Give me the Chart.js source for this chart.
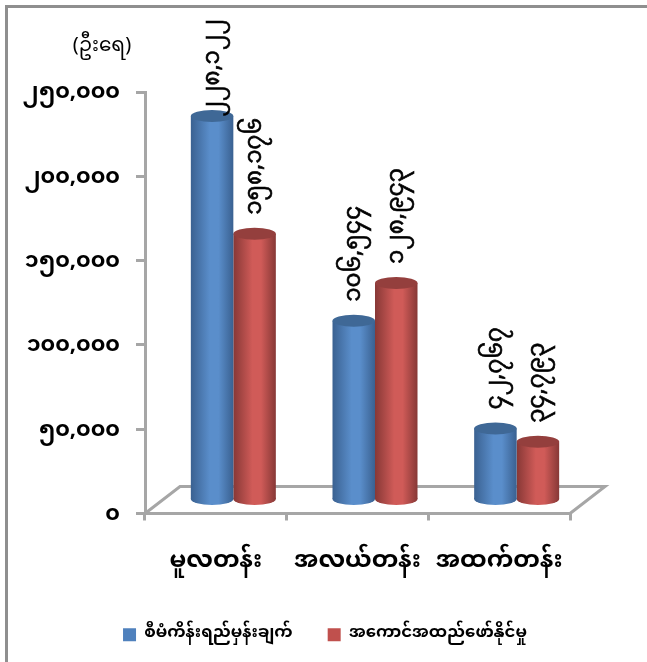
<!DOCTYPE html>
<html>
<head>
<meta charset="utf-8">
<title>chart</title>
<script src="https://cdn.jsdelivr.net/npm/chart.js@4"></script>
<style>
  html, body { margin: 0; padding: 0; background: #fff; }
  #wrap { width: 647px; height: 662px; position: relative; }
</style>
</head>
<body>
<div id="wrap"><canvas id="grafico" width="647" height="662"></canvas></div>
<script>
// dados
const categorias = ['မူလတန်း', 'အလယ်တန်း', 'အထက်တန်း'];
const nomeAzul = 'စီမံကိန်းရည်မှန်းချက်';
const nomeVermelho = 'အကောင်အထည်ဖော်နိုင်မှု';
const valoresAzul = [228122, 106544, 42767];
const valoresVermelho = [158176, 128943, 34793];
const rotulosAzul = ['၂၂၈,၁၂၂', '၁၀၆,၅၄၄', '၄၂,၇၆၇'];
const rotulosVermelho = ['၁၅၈,၁၇၆', '၁၂၈,၉၄၃', '၃၄,၇၉၃'];
const ticksY = [0, 50000, 100000, 150000, 200000, 250000];
const rotulosTicksY = ['၀', '၅၀,၀၀၀', '၁၀၀,၀၀၀', '၁၅၀,၀၀၀', '၂၀၀,၀၀၀', '၂၅၀,၀၀၀'];
const unidadeY = '(ဦးရေ)';

// estilo
const fonte = '"Noto Sans Myanmar", Padauk, "Myanmar Text", "Noto Sans", "DejaVu Sans", sans-serif';
const cinza = '#a6a6a6';
const deslocX = 17.5;   // bars sit on the floor, not on the front edge
const deslocY = 13;
const fundoX = 35;      // floor depth
const fundoY = 27;
const raioTampa = 6;
const deslocLegenda = 40;

const cores = [
    { borda: '#3a6191', meio: '#5a8ecb', tampa: '#3f6896' },
    { borda: '#873836', meio: '#d05b58', tampa: '#943f3d' }
];

function gradiente(ctx, esq, dir, cor) {
    const g = ctx.createLinearGradient(esq, 0, dir, 0);
    g.addColorStop(0, cor.borda);
    g.addColorStop(0.45, cor.meio);
    g.addColorStop(0.65, cor.meio);
    g.addColorStop(1, cor.borda);
    return g;
}

const cilindros = {
    id: 'cilindros',
    afterLayout(chart) {
        // legend is centred on the full picture, not on the plot
        chart.legend.left += deslocLegenda;
        chart.legend.right += deslocLegenda;
    },
    beforeDraw(chart) {
        const { ctx, chartArea: a } = chart;
        ctx.save();
        // moldura
        ctx.fillStyle = '#8f8f8f';
        ctx.fillRect(5, 5, 642, 3);
        ctx.fillRect(5, 5, 3, 657);
        // chão 3d
        ctx.strokeStyle = cinza;
        ctx.lineWidth = 3;
        ctx.beginPath();
        ctx.moveTo(a.left, a.bottom);
        ctx.lineTo(a.left + fundoX, a.bottom - fundoY);
        ctx.lineTo(a.right + fundoX, a.bottom - fundoY);
        ctx.lineTo(a.right, a.bottom);
        ctx.stroke();
        // unidade
        ctx.fillStyle = '#000';
        ctx.font = '20px ' + fonte;
        ctx.textAlign = 'center';
        ctx.textBaseline = 'middle';
        ctx.fillText(unidadeY, 102, 49);
        ctx.restore();
    },
    beforeDatasetDraw(chart, args) {
        const { ctx } = chart;
        const cor = cores[args.index];
        ctx.save();
        ctx.translate(deslocX, -deslocY);
        args.meta.data.forEach(el => {
            const r = el.width / 2;
            const g = gradiente(ctx, el.x - r, el.x + r, cor);
            el.options = Object.assign({}, el.options, { backgroundColor: g });
            ctx.fillStyle = g;
            ctx.beginPath();
            ctx.ellipse(el.x, el.base, r, raioTampa, 0, 0, Math.PI * 2);
            ctx.fill();
        });
    },
    afterDatasetDraw(chart, args) {
        const { ctx } = chart;
        const cor = cores[args.index];
        const rotulos = args.index === 0 ? rotulosAzul : rotulosVermelho;
        args.meta.data.forEach((el, i) => {
            ctx.fillStyle = cor.tampa;
            ctx.beginPath();
            ctx.ellipse(el.x, el.y, el.width / 2, raioTampa, 0, 0, Math.PI * 2);
            ctx.fill();

            ctx.save();
            ctx.font = '23px ' + fonte;
            // tall label gets pushed down so it stays under the frame
            const largura = ctx.measureText(rotulos[i]).width;
            const inicio = Math.max(el.y - 19, 19 + largura + deslocY);
            ctx.translate(el.x + 4, inicio);
            ctx.rotate(-Math.PI / 2);
            ctx.fillStyle = '#000';
            ctx.strokeStyle = '#000';
            ctx.lineWidth = 0.6;
            ctx.textAlign = 'left';
            ctx.textBaseline = 'middle';
            ctx.fillText(rotulos[i], 0, 0);
            ctx.strokeText(rotulos[i], 0, 0);
            ctx.restore();
        });
        ctx.restore();
    }
};

new Chart(document.getElementById('grafico'), {
    type: 'bar',
    data: {
        labels: categorias,
        datasets: [
            { label: nomeAzul, data: valoresAzul, backgroundColor: '#4f81bd' },
            { label: nomeVermelho, data: valoresVermelho, backgroundColor: '#c0504d' }
        ]
    },
    plugins: [cilindros],
    options: {
        responsive: false,
        animation: false,
        categoryPercentage: 0.6,
        barPercentage: 1,
        layout: { padding: { left: 0, right: 77, top: 92, bottom: 9 } },
        plugins: {
            tooltip: { enabled: false },
            legend: {
                position: 'bottom',
                labels: {
                    boxWidth: 13,
                    boxHeight: 13,
                    padding: 35,
                    color: '#000',
                    font: { family: fonte, size: 16.5, weight: 'bold' }
                }
            }
        },
        scales: {
            x: {
                afterFit: s => { s.height = 78; },
                border: { color: cinza, width: 3 },
                grid: { drawOnChartArea: false, offset: true, color: cinza, lineWidth: 3, tickLength: 7 },
                ticks: { color: '#000', maxRotation: 0, autoSkip: false, padding: 30, font: { family: fonte, size: 24, weight: 'bold' } }
            },
            y: {
                min: 0,
                max: 250000,
                afterFit: s => { s.width = 145; },
                afterBuildTicks: s => { s.ticks = ticksY.map(v => ({ value: v })); },
                border: { color: cinza, width: 3 },
                grid: { drawOnChartArea: false, color: cinza, lineWidth: 3, tickLength: 9 },
                ticks: {
                    color: '#000',
                    padding: 16,
                    labelOffset: 4,
                    font: { family: fonte, size: 22, weight: 'bold' },
                    callback: v => rotulosTicksY[ticksY.indexOf(v)]
                }
            }
        }
    }
});
</script>
</body>
</html>
